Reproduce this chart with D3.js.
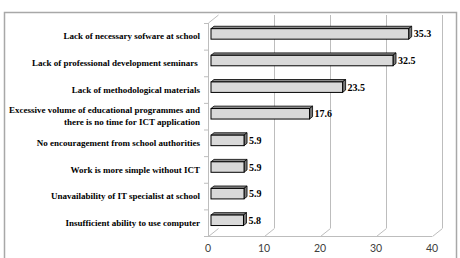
<!DOCTYPE html>
<html><head><meta charset="utf-8">
<script src="https://cdn.jsdelivr.net/npm/d3@7"></script>
<style>html,body{margin:0;padding:0;background:#fff;}
.serif{font-family:"Liberation Serif","Tinos","Times New Roman","DejaVu Serif",serif;font-weight:bold;}
</style>
</head><body>
<svg id="c" width="460" height="258"></svg>
<script>
const categories = [
  "Lack of necessary sofware at school",
  "Lack of professional development seminars ",
  "Lack of methodological materials",
  "Excessive volume of educational programmes and\nthere is no time for ICT application",
  "No encouragement from school authorities",
  "Work is more simple without ICT",
  "Unavailability of IT specialist at school",
  "Insufficient ability to use computer"
];
const values = [35.3, 32.5, 23.5, 17.6, 5.9, 5.9, 5.9, 5.8];
const valueLabels = ["35.3", "32.5", "23.5", "17.6", "5.9", "5.9", "5.9", "5.8"];
const xTicks = [0, 10, 20, 30, 40];

const svg = d3.select("#c");
const x = d3.scaleLinear().domain([0, 40]).range([208, 432]);
const y = d3.scaleBand().domain(categories).range([23, 236]).padding(0);
const DX = 10, DY = -8; // 3D depth offset
const off = f => [DX * f, DY * f];

// outer border
svg.append("rect").attr("x", 4.5).attr("y", 12.5).attr("width", 452).attr("height", 260)
  .attr("fill", "none").attr("stroke", "#a8a8a8").attr("stroke-width", 1.5);

const grid = svg.append("g").attr("stroke", "#bdbdbd").attr("stroke-width", 1).attr("fill", "none");
const yTop = y.range()[0], yBot = y.range()[1];
xTicks.forEach(t => {
  if (t === 0) return;
  grid.append("line").attr("x1", x(t) + DX + 0.5).attr("x2", x(t) + DX + 0.5)
    .attr("y1", yTop + DY).attr("y2", yBot + DY);
  grid.append("line").attr("x1", x(t) + 0.5).attr("y1", yBot + 0.5)
    .attr("x2", x(t) + DX + 0.5).attr("y2", yBot + DY + 0.5);
});
grid.append("line").attr("x1", x(0)).attr("x2", x(40)).attr("y1", yBot + 0.5).attr("y2", yBot + 0.5);
grid.append("line").attr("x1", x(0) + 0.5).attr("y1", yBot + 0.5).attr("x2", x(0) + DX + 0.5).attr("y2", yBot + DY + 0.5);
grid.append("line").attr("x1", x(0) + 0.5).attr("x2", x(0) + 0.5).attr("y1", yTop).attr("y2", yBot);
grid.append("line").attr("x1", x(0) + 0.5).attr("y1", yTop).attr("x2", x(0) + DX + 0.5).attr("y2", yTop + DY);
categories.forEach(c => {
  const b = y(c);
  grid.append("line").attr("x1", x(0) - 4).attr("x2", x(0)).attr("y1", b + 0.5).attr("y2", b + 0.5);
});
grid.append("line").attr("x1", x(0) - 4).attr("x2", x(0)).attr("y1", yBot + 0.5).attr("y2", yBot + 0.5);

// bars (3D)
const f0 = 0.3, f1 = 0.6, barH = 10.5;
const bars = svg.append("g");
categories.forEach((c, i) => {
  const v = values[i];
  const cy = y(c) + y.bandwidth() / 2;
  const [ox, oy] = off(f0);
  const [bx, by] = off(f1 - f0);
  const x0 = x(0) + ox, x1 = x(v) + ox;
  const yt = cy + oy - barH / 2, yb = cy + oy + barH / 2;
  bars.append("path").attr("d", `M${x0},${yt}L${x0 + bx},${yt + by}L${x1 + bx},${yt + by}L${x1},${yt}Z`)
    .attr("fill", "#8a8a8a").attr("stroke", "#000").attr("stroke-width", 0.8).attr("stroke-linejoin", "round");
  bars.append("path").attr("d", `M${x1},${yt}L${x1 + bx},${yt + by}L${x1 + bx},${yb + by}L${x1},${yb}Z`)
    .attr("fill", "#7a7a7a").attr("stroke", "#000").attr("stroke-width", 0.8).attr("stroke-linejoin", "round");
  bars.append("rect").attr("x", x0).attr("y", yt).attr("width", x1 - x0).attr("height", barH)
    .attr("fill", "#d9d9d9").attr("stroke", "#000").attr("stroke-width", 1);
  svg.append("text").attr("class", "serif").attr("x", x1 + bx + 2).attr("y", cy + oy)
    .attr("dy", "0.35em").attr("font-size", 10).attr("fill", "#000").text(valueLabels[i]);
});

// category labels
categories.forEach(c => {
  const lines = c.split("\n");
  const cy = y(c) + y.bandwidth() / 2;
  const t = svg.append("text").attr("class", "serif").attr("text-anchor", "end")
    .attr("font-size", 9).attr("fill", "#000").style("white-space", "pre");
  const lh = 12;
  lines.forEach((l, k) => {
    t.append("tspan").attr("x", 200).attr("y", cy + (k - (lines.length - 1) / 2) * lh)
      .attr("dy", "0.35em").text(l);
  });
});

// x axis labels
svg.append("g").selectAll("text").data(xTicks).join("text")
  .attr("x", d => x(d)).attr("y", 252).attr("text-anchor", "middle")
  .attr("font-family", "Lato, 'Open Sans', sans-serif").attr("font-size", 10.5).attr("fill", "#404040")
  .text(d => d);
</script>
</body></html>
